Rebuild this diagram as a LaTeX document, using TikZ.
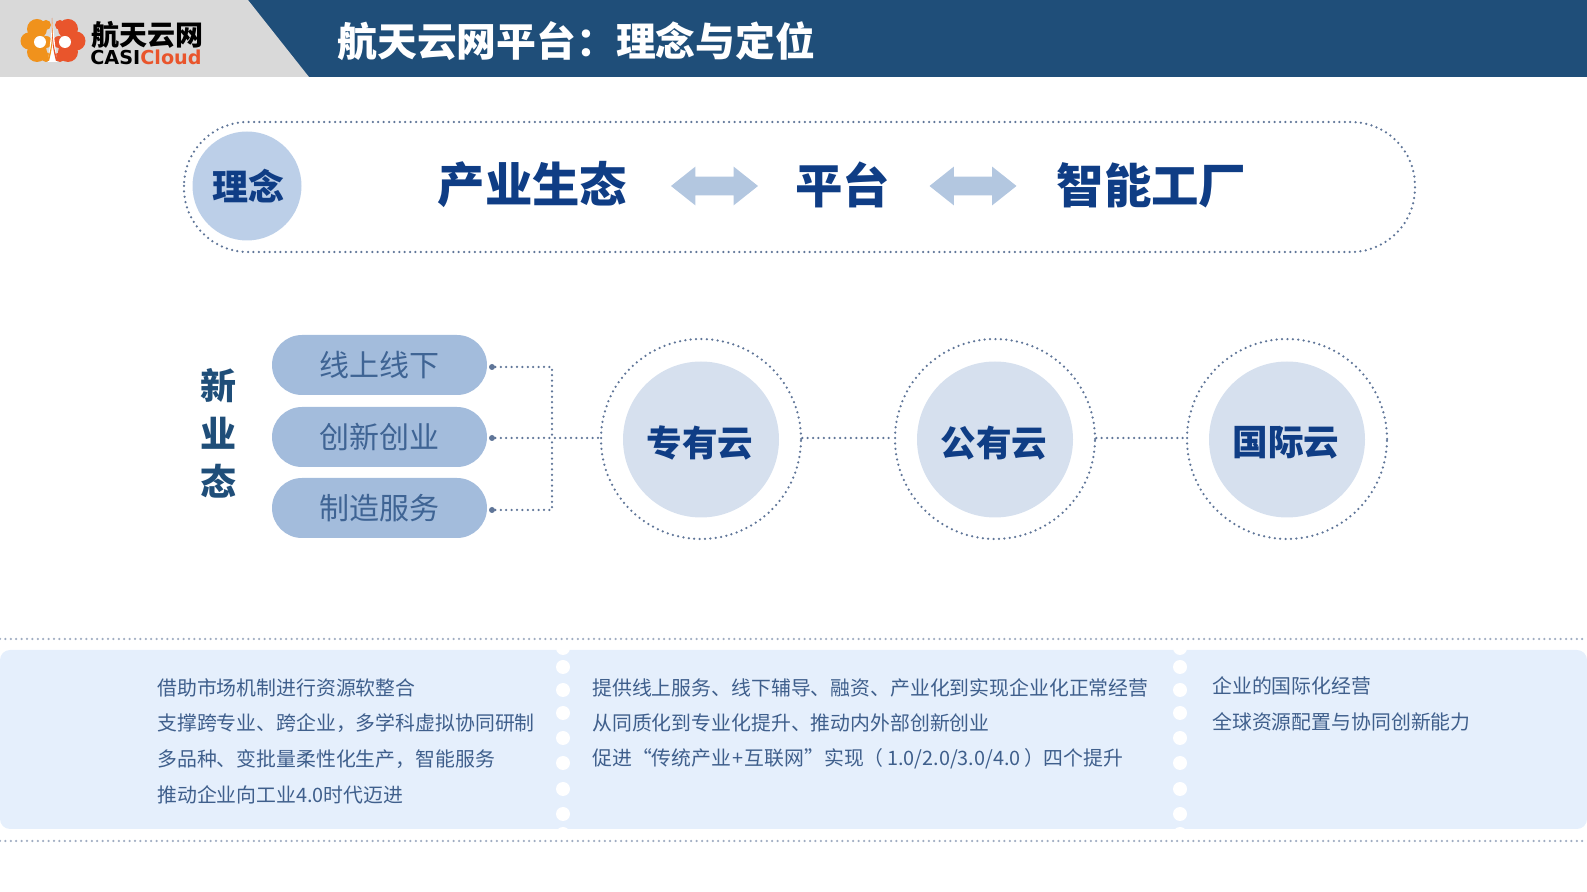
\documentclass[tikz,border=0pt]{standalone}
\usepackage{fontspec}
\setmainfont{Noto Sans CJK SC}
\newfontfamily\latinbold{DejaVu Sans}
\usetikzlibrary{shapes.arrows}

\definecolor{headblue}{HTML}{1F4E79}
\definecolor{navytext}{HTML}{0F3D85}
\definecolor{dotblue}{HTML}{5F7598}
\definecolor{pillblue}{HTML}{A3BCDC}
\definecolor{pilltext}{HTML}{3F6494}
\definecolor{coreblue}{HTML}{D6E0EE}
\definecolor{ideablue}{HTML}{BCCFE8}
\definecolor{arrowblue}{HTML}{B3C7E0}
\definecolor{panelblue}{HTML}{E5EFFC}
\definecolor{paneltext}{HTML}{3F5F8C}
\definecolor{logoorange}{HTML}{F0921C}
\definecolor{logored}{HTML}{E9552C}

\begin{document}
\begin{tikzpicture}[
		x=0.5pt, y=-0.5pt,
		dotline/.style={draw=dotblue, line width=1.25pt, line cap=round, dash pattern=on 0pt off 2.7pt},
		bigword/.style={inner sep=0pt, text=navytext, font=\fontsize{23.7}{26}\selectfont\bfseries},
		ringword/.style={inner sep=0pt, text=navytext, font=\fontsize{17.8}{20}\selectfont\bfseries},
		pillnode/.style={rectangle, rounded corners=15pt, fill=pillblue, text=pilltext, minimum width=107.5pt, minimum height=30pt, inner sep=0pt, font=\fontsize{15}{18}\selectfont},
		ringnode/.style={circle, dotline, minimum size=100pt, inner sep=0pt},
		corenode/.style={circle, fill=coreblue, minimum size=78pt, inner sep=0pt},
		dotnode/.style={circle, fill=dotblue, minimum size=3pt, inner sep=0pt},
		twoarrow/.style={double arrow, fill=arrowblue, inner xsep=0pt, inner ysep=4.5pt, minimum height=43.5pt, double arrow head extend=5pt, double arrow tip angle=77},
		paneline/.style={anchor=west, inner sep=0pt, text=paneltext, font=\fontsize{9.93}{12}\selectfont}
	]

	\useasboundingbox (0, 0) rectangle (1587, 892);

	% header
	\fill[headblue] (0, 0) rectangle (1587, 77);
	\fill[gray!30] (0, 0) -- (248, 0) -- (309, 77) -- (0, 77) -- cycle;
	\node[anchor=west, inner sep=0pt, text=white, font=\fontsize{19.9}{24}\selectfont\bfseries] (title) at (337, 41) {航天云网平台^^^^ff1a理念与定位};

	% logo
	\foreach \x/\y/\r in {37/29/10, 29/41/8.5, 37/52/10, 46/42/6, 46/25/5, 46/57/5} {
			\fill[logoorange] (\x, \y) circle[radius=\r];
		}
	\foreach \x/\y/\r in {68/29/10, 76/41/9.5, 68/52/10, 59/42/6, 60/25/5, 60/57/5} {
			\fill[logored] (\x, \y) circle[radius=\r];
		}
	\fill[white] (40, 42) circle[radius=6];
	\fill[white] (65, 42) circle[radius=6];
	\fill[white] (52.5, 22) -- (48, 62) -- (57, 62) -- cycle;
	\fill[logoorange] (52, 18) .. controls (53, 40) and (51, 50) .. (47, 61) -- (49, 61) .. controls (52, 50) and (53.5, 40) .. cycle;
	\fill[logored] (52, 18) .. controls (52, 40) and (54, 50) .. (58, 61) -- (56, 61) .. controls (53, 50) and (51.5, 40) .. cycle;
	\node[anchor=west, inner sep=0pt, text=black, font=\fontsize{14}{16}\selectfont\bfseries] (logo-cn) at (91, 35) {航天云网};
	\node[anchor=west, inner sep=0pt, font=\fontsize{9.6}{12}\latinbold\bfseries] (logo-en) at (90, 57) {CASI\textcolor{logored}{Cloud}};

	% idea band
	\draw[dotline, rounded corners=32pt] (184, 122) rectangle (1415, 252);
	\node[circle, fill=ideablue, minimum size=54.5pt, inner sep=0pt] (idea) at (247, 186) {};
	\node[inner sep=0pt, text=navytext, font=\fontsize{18}{20}\selectfont\bfseries] at (248, 186) {理念};
	\node[bigword] (eco) at (532.5, 185) {产业生态};
	\node[twoarrow] (arrow-1) at (714.5, 186) {};
	\node[bigword] (platform) at (842.5, 185) {平台};
	\node[twoarrow] (arrow-2) at (973, 186) {};
	\node[bigword] (factory) at (1151.5, 185) {智能工厂};

	% new business
	\foreach \i/\y/\t in {1/386/新, 2/433/业, 3/481/态} {
			\node[inner sep=0pt, text=headblue, font=\fontsize{18}{20}\selectfont\bfseries] (new-\i) at (218, \y) {\t};
		}

	\foreach \i/\y/\d/\t in {1/365/367/线上线下, 2/437/438/创新创业, 3/508/510/制造服务} {
			\node[pillnode] (pill-\i) at (379.5, \y) {\t};
			\node[dotnode] (dot-\i) at (492, \d) {};
		}

	\foreach \i/\x/\t in {1/701/专有云, 2/995/公有云, 3/1287/国际云} {
			\node[ringnode] (ring-\i) at (\x, 439) {};
			\node[corenode] (core-\i) at (\x, 439.5) {};
			\node[ringword] at (\x - 1, 443) {\t};
		}

	\coordinate (join) at (552, 438);
	\draw[dotline] (dot-1) -| (join);
	\draw[dotline] (dot-3) -| (join);
	\draw[dotline] (dot-2) -- ([yshift=0.5pt]ring-1.west);
	\draw[dotline] ([yshift=0.5pt]ring-1.east) -- ([yshift=0.5pt]ring-2.west);
	\draw[dotline] ([yshift=0.5pt]ring-2.east) -- ([yshift=0.5pt]ring-3.west);

	% bottom panel
	\coordinate (rule-1-a) at (0, 639);
	\coordinate (rule-1-b) at (1587, 639);
	\coordinate (rule-2-a) at (0, 841);
	\coordinate (rule-2-b) at (1587, 841);
	\draw[dotline, draw=dotblue!60] (rule-1-a) -- (rule-1-b);
	\draw[dotline, draw=dotblue!60] (rule-2-a) -- (rule-2-b);
	\fill[panelblue, rounded corners=5pt] (0, 650) rectangle (1587, 829);
	\begin{scope}
		\clip (0, 650) rectangle (1587, 829);
		\foreach \x in {563, 1180} {
				\foreach \y in {648, 667, 690, 713, 738, 763, 789, 814, 834} {
						\fill[white] (\x, \y) circle[radius=7];
					}
			}
	\end{scope}

	\foreach \i/\y/\t in {1/688/{借助市场机制进行资源软整合}, 2/723/{支撑跨专业、跨企业^^^^ff0c多学科虚拟协同研制}, 3/759/{多品种、变批量柔性化生产^^^^ff0c智能服务}, 4/795/{推动企业向工业4.0时代迈进}} {
			\node[paneline] (left-\i) at (157, \y) {\t};
		}
	\foreach \i/\y/\t in {1/688/{提供线上服务、线下辅导、融资、产业化到实现企业化正常经营}, 2/723/{从同质化到专业化提升、推动内外部创新创业}, 3/759/{促进“传统产业\kern0.6pt+\kern0.6pt互联网”实现^^^^ff08\,1.0/2.0/3.0/4.0\,^^^^ff09四个提升}} {
			\node[paneline] (mid-\i) at (592, \y) {\t};
		}
	\foreach \i/\y/\t in {1/686/企业的国际化经营, 2/722/全球资源配置与协同创新能力} {
			\node[paneline] (right-\i) at (1212, \y) {\t};
		}

\end{tikzpicture}
\end{document}
